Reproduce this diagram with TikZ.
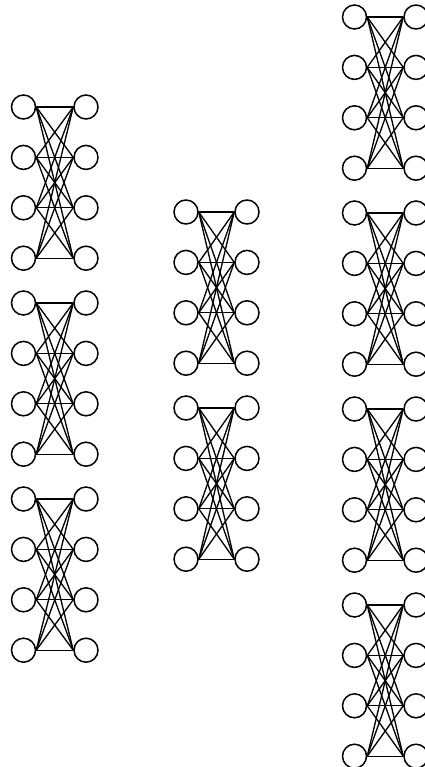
\documentclass[tikz,border=0pt]{standalone}
\begin{document}
\begin{tikzpicture}[
    x=0.02cm, y=-0.02cm,
    neuron/.style={draw, circle, line width=0.85pt, minimum size=0.48cm, inner sep=0pt},
    link/.style={line width=0.75pt}
]
\useasboundingbox (0,0) rectangle (425,767);

\def\gap{50.4}
\def\block{196}

% columns: name / left x / right x / first row / number of blocks
\foreach \c/\xl/\xr/\ytop/\nb in {a/23.5/86/107/3, b/186/247/212/2, c/354.5/416/17/4} {
  \foreach \b in {1,...,\nb} {
    % two layers of four units
    \foreach \i in {1,...,4} {
      \node[neuron] (\c\b l\i) at (\xl, {\ytop+(\b-1)*\block+(\i-1)*\gap}) {};
      \node[neuron] (\c\b r\i) at (\xr, {\ytop+(\b-1)*\block+(\i-1)*\gap}) {};
    }
    % full connections
    \foreach \i in {1,...,4}
      \foreach \j in {1,...,4}
        \draw[link] (\c\b l\i.east) -- (\c\b r\j.west);
  }
}

\end{tikzpicture}
\end{document}
